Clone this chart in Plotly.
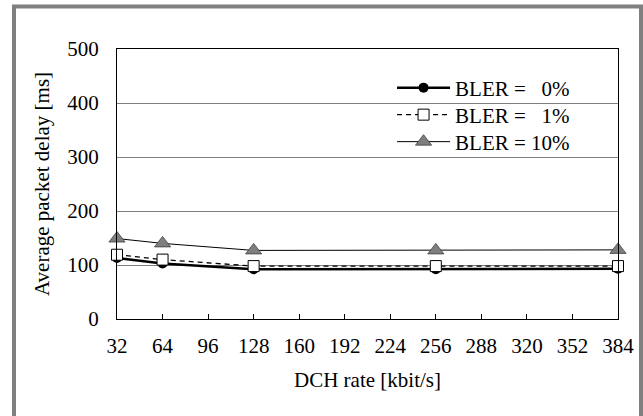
import plotly.graph_objects as go

rates = [32, 64, 128, 256, 384]
bler0 = [113, 103, 92, 92, 93]
bler1 = [119, 110, 98, 98, 98]
bler10 = [149, 140, 127, 127, 128]
names = ["BLER = \u20020%", "BLER = \u20021%", "BLER = 10%"]
xticks = [32, 64, 96, 128, 160, 192, 224, 256, 288, 320, 352, 384]
yticks = [0, 100, 200, 300, 400, 500]

FONT = "Liberation Serif"
FS = 21

fig = go.Figure()
fig.add_trace(go.Scatter(
    x=rates, y=bler0, name=names[0], mode="lines+markers", legend="legend",
    line=dict(color="black", width=2.5),
    marker=dict(symbol="circle", size=10, color="black"),
    cliponaxis=False))
fig.add_trace(go.Scatter(
    x=rates, y=bler1, name=names[1], mode="lines+markers", legend="legend2",
    line=dict(color="black", width=1.3, dash="5px,4px"),
    marker=dict(symbol="square", size=11, color="white", line=dict(color="black", width=1)),
    cliponaxis=False))
fig.add_trace(go.Scatter(
    x=rates, y=bler10, name=names[2], mode="lines+markers", legend="legend3",
    line=dict(color="black", width=1),
    marker=dict(symbol="triangle-up", size=14, color="#7f7f7f", line=dict(color="#404040", width=0.8)),
    cliponaxis=False))

def leg(ypix):
    return dict(
        x=0.549, y=(319 - ypix) / 270, xanchor="left", yanchor="middle",
        bgcolor="rgba(0,0,0,0)", borderwidth=0,
        font=dict(family=FONT, size=FS, color="black"),
        itemwidth=53,
    )

def px_x(p):
    return (p - 117) / 501

def px_y(p):
    return (319 - p) / 270

fig.update_layout(
    width=643, height=416,
    margin=dict(l=117, r=25, t=49, b=97, autoexpand=False),
    paper_bgcolor="white", plot_bgcolor="white",
    font=dict(family=FONT, size=FS, color="black"),
    showlegend=True,
    legend=leg(88), legend2=leg(115), legend3=leg(142),
    xaxis=dict(
        range=[32, 384], tickmode="array", tickvals=xticks,
        ticktext=[str(v) for v in xticks],
        ticks="inside", ticklen=5, tickcolor="black", tickwidth=1,
        showline=True, linecolor="black", linewidth=1.2, mirror=True,
        showgrid=False, zeroline=False, ticklabelstandoff=8,
        title=dict(text="DCH rate [kbit/s]", font=dict(family=FONT, size=FS), standoff=15),
    ),
    yaxis=dict(
        range=[0, 500], tickmode="array", tickvals=yticks,
        ticktext=[str(v) for v in yticks],
        ticks="", showline=True, linecolor="black", linewidth=1.2, mirror=True,
        showgrid=True, gridcolor="#7f7f7f", gridwidth=1, zeroline=False,
        ticklabelstandoff=13,
        title=dict(text="Average packet delay [ms]", font=dict(family=FONT, size=FS), standoff=11),
    ),
    shapes=[
        dict(
            type="rect", xref="paper", yref="paper",
            x0=px_x(14), x1=px_x(641), y0=px_y(440), y1=px_y(6.5),
            line=dict(color="#808080", width=4), fillcolor="rgba(0,0,0,0)", layer="below",
        ),
        dict(
            type="rect", xref="paper", yref="paper",
            x0=px_x(393), x1=px_x(576), y0=px_y(155), y1=px_y(73),
            line=dict(width=0), fillcolor="white", layer="between",
        ),
    ],
)

fig.write_html("out.html", post_script="document.body.style.margin='0';",
               config={"displayModeBar": False})
